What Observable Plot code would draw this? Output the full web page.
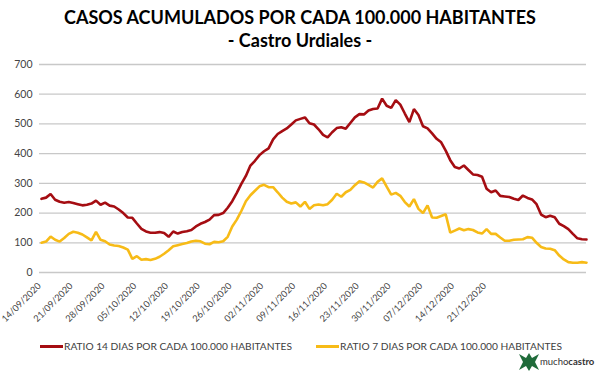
<!DOCTYPE html>
<html>
<head>
<meta charset="utf-8">
<script src="https://cdn.jsdelivr.net/npm/d3@7"></script>
<script src="https://cdn.jsdelivr.net/npm/@observablehq/plot@0.6"></script>
<style>
  html, body { margin: 0; padding: 0; background: #fff; width: 600px; height: 375px; overflow: hidden; font-family: Lato, "Liberation Sans", sans-serif; }
  #title { position: absolute; left: 0; top: 6px; width: 600px; text-align: center; font-weight: bold; font-size: 18px; color: #000; line-height: 23px; }
  #chart { position: absolute; left: 0; top: 55px; }
  #legend { position: absolute; left: 0; top: 340px; width: 600px; font-size: 10.2px; color: #404040; }
  .lg { position: absolute; top: 0; white-space: nowrap; }
  .sw { display: inline-block; width: 23px; height: 3px; vertical-align: middle; margin-right: 1px; position: relative; top: -1px; }
  #logo { position: absolute; left: 518px; top: 352px; font-size: 9.5px; color: #333; white-space: nowrap; }
</style>
</head>
<body>
<div id="title">CASOS ACUMULADOS POR CADA 100.000 HABITANTES<br>- Castro Urdiales -</div>
<div id="chart"></div>
<div id="legend"></div>
<div id="logo"></div>
<script>
// ---- data ----
const startDate = "2020-09-14";
const ratio14 = [248,252,264,245,238,235,237,234,230,226,228,232,242,228,235,225,222,212,200,185,
  184,165,147,138,134,134,136,133,120,138,131,136,139,143,155,164,170,178,193,194,
  200,218,240,268,298,325,360,376,395,408,418,448,466,476,485,498,512,517,522,502,
  498,482,463,455,472,486,489,484,503,522,533,532,545,550,552,585,561,554,580,565,
  535,506,550,530,492,485,468,450,438,410,378,355,350,360,345,330,328,322,282,270,
  276,258,256,254,248,244,259,251,246,230,195,186,191,186,164,156,146,130,115,112,111];
const ratio7 = [100,104,121,110,104,116,130,137,134,128,118,108,137,110,105,94,91,89,84,77,
  46,55,43,45,42,46,53,63,75,88,92,96,99,104,107,105,97,95,103,102,
  105,120,155,178,207,240,260,275,290,295,287,287,270,252,238,232,236,222,238,214,
  226,229,226,230,245,265,255,270,278,294,307,303,295,286,305,317,289,262,268,258,
  237,222,247,214,200,226,185,184,190,196,134,141,148,142,146,143,135,131,146,130,
  130,118,107,107,110,111,112,119,117,100,86,81,80,75,57,44,35,33,33,35,33];
const tickLabels = ["14/09/2020","21/09/2020","28/09/2020","05/10/2020","12/10/2020","19/10/2020","26/10/2020",
  "02/11/2020","09/11/2020","16/11/2020","23/11/2020","30/11/2020","07/12/2020","14/12/2020","21/12/2020"];
const yTicks = [0,100,200,300,400,500,600,700];
const seriesNames = ["RATIO 14 DIAS POR CADA 100.000 HABITANTES", "RATIO 7 DIAS POR CADA 100.000 HABITANTES"];
const seriesColors = ["#a50d12", "#f7bb17"];

// ---- build table ----
const parse = d3.utcParse("%d/%m/%Y");
const t0 = d3.utcParse("%Y-%m-%d")(startDate);
const dates = ratio14.map((_, i) => d3.utcDay.offset(t0, i));
const rows = [];
ratio14.forEach((v, i) => rows.push({date: dates[i], value: v, series: seriesNames[0]}));
ratio7.forEach((v, i) => rows.push({date: dates[i], value: v, series: seriesNames[1]}));
const ticks = tickLabels.map(s => ({date: parse(s), label: s}));

const chart = Plot.plot({
  width: 600,
  height: 275,
  marginTop: 9,
  marginBottom: 58,
  marginLeft: 41,
  marginRight: 14,
  style: {fontFamily: "Lato, 'Liberation Sans', sans-serif", background: "#fff", overflow: "visible"},
  x: {type: "utc", domain: [dates[0], dates[dates.length - 1]], axis: null},
  y: {domain: [0, 700]},
  color: {domain: seriesNames, range: seriesColors},
  marks: [
    Plot.gridY(yTicks, {stroke: "#c8c8c8", strokeOpacity: 1, strokeWidth: 1.3, insetLeft: -2}),
    Plot.axisY(yTicks, {tickSize: 0, tickPadding: 9, fontSize: 10.5, fill: "#444", label: null}),
    Plot.text(ticks, {x: "date", y: () => 0, text: "label", rotate: -45, textAnchor: "end", lineAnchor: "middle",
      dy: 12, dx: -2, fontSize: 9.2, fill: "#444"}),
    Plot.line(rows, {x: "date", y: "value", z: "series", stroke: "series", strokeWidth: 2.6, strokeLinejoin: "miter", curve: "linear"})
  ]
});
document.getElementById("chart").appendChild(chart);

// ---- legend ----
const legend = document.getElementById("legend");
const lgPos = [40, 316];
seriesNames.forEach((name, i) => {
  const d = document.createElement("div");
  d.className = "lg";
  d.style.left = lgPos[i] + "px";
  d.innerHTML = `<span class="sw" style="background:${seriesColors[i]}"></span>${name}`;
  legend.appendChild(d);
});

// ---- logo ----
document.getElementById("logo").innerHTML =
  `<svg width="22" height="20" style="vertical-align:middle" viewBox="0 0 22 20">
     <path d="M1 2 L8 6 L11 1 L14 6 L21 2 L17 10 L21 18 L14 14 L11 19 L8 14 L1 18 L5 10 Z" fill="#1f6b3a"/>
   </svg><span style="position:relative;top:1px">mucho<b>castro</b></span>`;
</script>
</body>
</html>
